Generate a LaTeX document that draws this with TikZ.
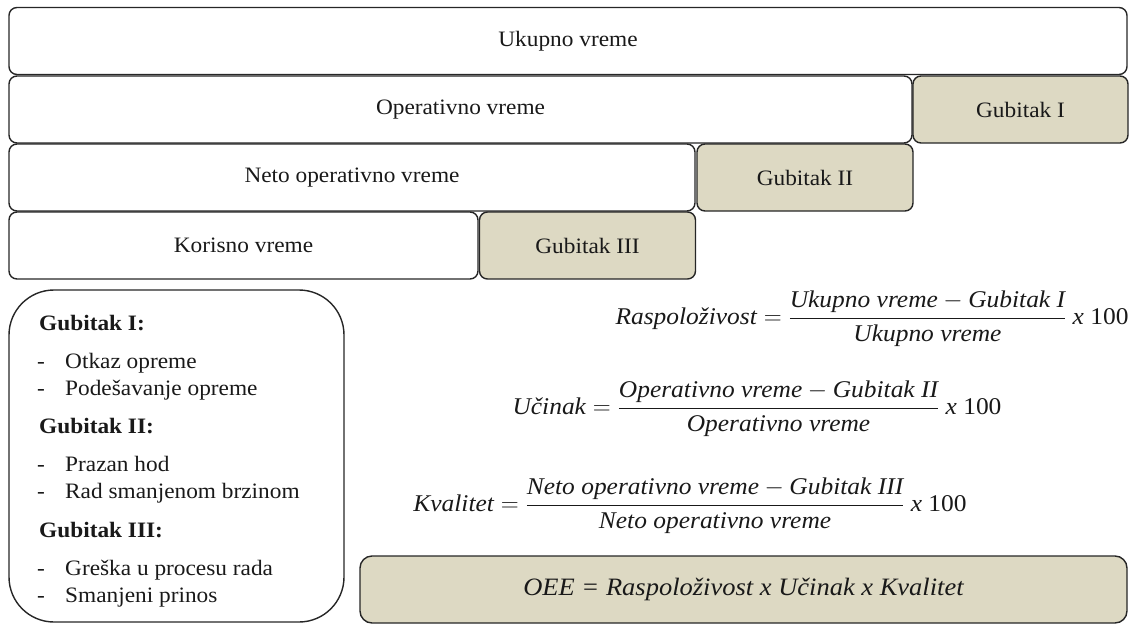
\documentclass[tikz,border=0pt]{standalone}
\usepackage{amsmath}
\usepackage{fontspec}
\setmainfont{Liberation Serif}[FakeStretch=1.06]
\definecolor{tan}{RGB}{221,217,195}
\definecolor{linija}{RGB}{38,38,38}
\definecolor{tekst}{RGB}{25,25,25}
\newcommand{\crtica}{\makebox[28pt][l]{-}}
\tikzset{
  vreme/.style={draw=linija, line width=1.4pt, rounded corners=8pt, minimum height=67pt,
    inner sep=0pt, text=tekst, font=\fontsize{22}{26}\selectfont},
  gubitak/.style={vreme, fill=tan},
  naslov/.style={anchor=base west, inner sep=0pt, text=tekst, font=\fontsize{22}{26}\selectfont\bfseries},
  stavka/.style={anchor=base west, inner sep=0pt, text=tekst, font=\fontsize{22}{26}\selectfont},
  formula/.style={inner sep=0pt, text=tekst, font=\fontsize{24}{28}\selectfont}
}
\begin{document}
\begin{tikzpicture}[x=1pt, y=-1pt]
  \useasboundingbox (0,0) rectangle (1130,624);
  % vremena i gubici
  \node[vreme, minimum width=1118pt] (ukupno) at (568,41) {Ukupno vreme};
  \node[vreme, minimum width=903pt] (operativno) at (460.5,109.5) {Operativno vreme};
  \node[gubitak, minimum width=215pt] (gub1) at (1020.5,109.5) {Gubitak I};
  \node[vreme, minimum width=686pt] (neto) at (352,177.5) {Neto operativno vreme};
  \node[gubitak, minimum width=216pt] (gub2) at (805,177.5) {Gubitak II};
  \node[vreme, minimum width=469pt] (korisno) at (243.5,245.5) {Korisno vreme};
  \node[gubitak, minimum width=216pt] (gub3) at (587.5,245.5) {Gubitak III};
  % legenda
  \node[draw=linija, line width=1.4pt, rounded corners=45pt, minimum width=335pt,
    minimum height=332pt, inner sep=0pt] (legenda) at (176.5,456) {};
  \node[naslov] (naslov1) at (39,330) {Gubitak I:};
  \node[stavka] (otkaz) at (37,368) {\crtica Otkaz opreme};
  \node[stavka] (podesavanje) at (37,395) {\crtica Podešavanje opreme};
  \node[naslov] (naslov2) at (39,433) {Gubitak II:};
  \node[stavka] (hod) at (37,471) {\crtica Prazan hod};
  \node[stavka] (brzina) at (37,498) {\crtica Rad smanjenom brzinom};
  \node[naslov] (naslov3) at (39,537) {Gubitak III:};
  \node[stavka] (greska) at (37,575) {\crtica Greška u procesu rada};
  \node[stavka] (prinos) at (37,602) {\crtica Smanjeni prinos};
  % formule
  \node[formula] (raspolozivost) at (872,319)
    {$\textit{Raspoloživost} = \dfrac{\textit{Ukupno vreme} - \textit{Gubitak I}}{\textit{Ukupno vreme}}\ \textit{x}\ \text{100}$};
  \node[formula] (ucinak) at (757,409)
    {$\textit{Učinak} = \dfrac{\textit{Operativno vreme} - \textit{Gubitak II}}{\textit{Operativno vreme}}\ \textit{x}\ \text{100}$};
  \node[formula] (kvalitet) at (690,506)
    {$\textit{Kvalitet} = \dfrac{\textit{Neto operativno vreme} - \textit{Gubitak III}}{\textit{Neto operativno vreme}}\ \textit{x}\ \text{100}$};
  \node[gubitak, rounded corners=12pt, minimum width=767pt, minimum height=67pt,
    font=\fontsize{25}{30}\selectfont\itshape] (oee) at (743.5,589.5)
    {OEE = Raspoloživost x Učinak x Kvalitet};
\end{tikzpicture}
\end{document}
